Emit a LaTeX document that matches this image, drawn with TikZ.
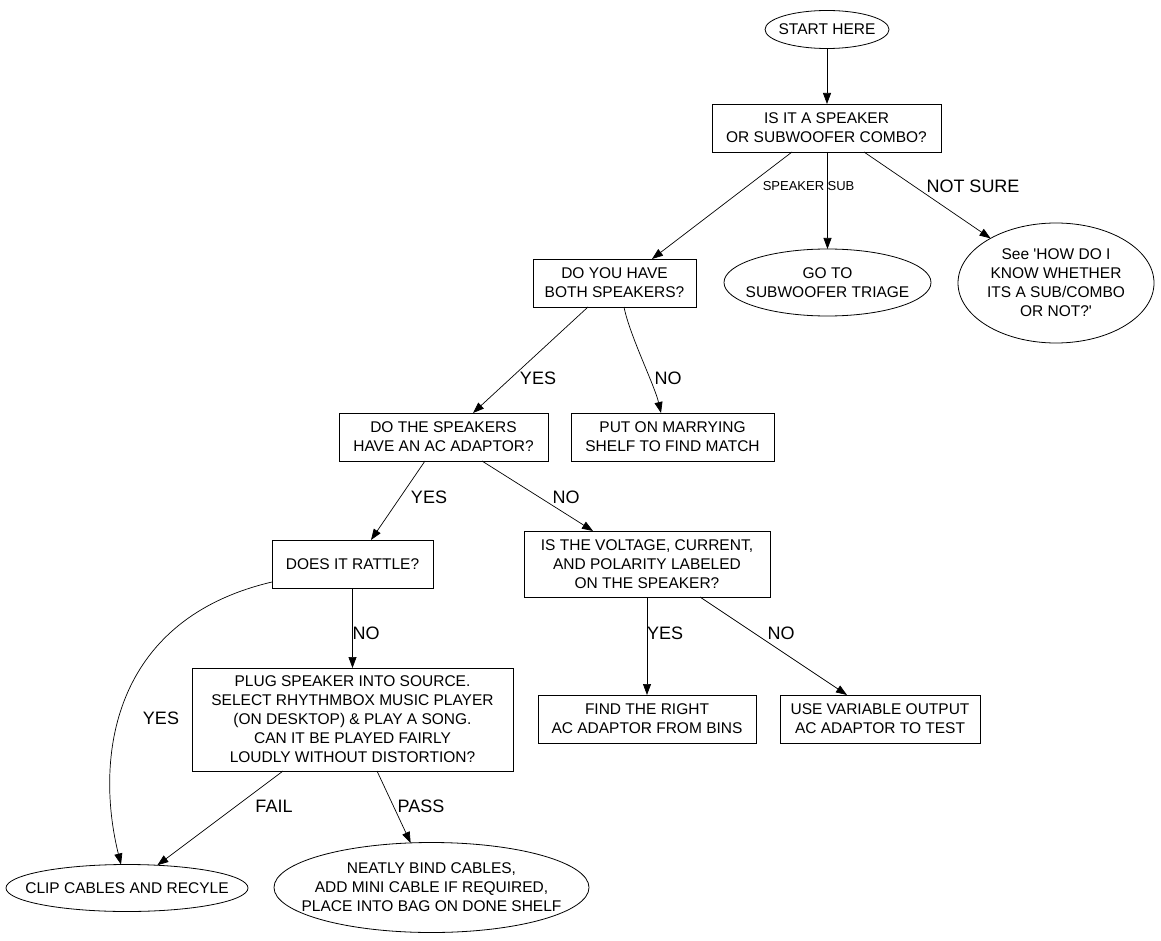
\documentclass[tikz,border=0pt]{standalone}
\usepackage{fontspec}
\setmainfont{Liberation Sans}
\usetikzlibrary{arrows.meta,shapes.geometric}
\begin{document}
\begin{tikzpicture}[x=1pt,y=-1pt,
  every node/.style={inner sep=0pt, outer sep=0pt, align=center, font=\fontsize{15.5}{19}\selectfont},
  box/.style={draw, rectangle, line width=0.8pt},
  oval/.style={draw, ellipse, line width=0.8pt},
  lbl/.style={font=\fontsize{18}{20}\selectfont},
  slbl/.style={font=\fontsize{13}{15}\selectfont},
  link/.style={draw, line width=0.7pt, -{Triangle[length=11pt,width=8pt]}}
]
\fill[white] (0,0) rectangle (1161,941);
\useasboundingbox (0,0) rectangle (1161,941);

% nodes
\node[oval, minimum width=124pt, minimum height=38pt] (start) at (827,29.5) {};
\node (startT) at (start) {START HERE};
\node[box, minimum width=229pt, minimum height=48pt] (isit) at (826.5,128) {IS IT A SPEAKER\\OR SUBWOOFER COMBO?};
\node[box, minimum width=163pt, minimum height=48pt] (doyou) at (614.5,283) {DO YOU HAVE\\BOTH SPEAKERS?};
\node[oval, minimum width=207pt, minimum height=67pt] (goto) at (827.5,282.5) {};
\node (gotoT) at (goto) {GO TO\\SUBWOOFER TRIAGE};
\node[oval, minimum width=196pt, minimum height=120pt] (see) at (1056,283) {};
\node (seeT) at (see) {See \textquotesingle HOW DO I\\KNOW WHETHER\\ITS A SUB/COMBO\\OR NOT?\textquotesingle};
\node[box, minimum width=209pt, minimum height=48pt] (dothe) at (443.5,437) {DO THE SPEAKERS\\HAVE AN AC ADAPTOR?};
\node[box, minimum width=203pt, minimum height=48pt] (put) at (672.5,437) {PUT ON MARRYING\\SHELF TO FIND MATCH};
\node[box, minimum width=161pt, minimum height=48pt] (rattle) at (352.5,564) {DOES IT RATTLE?};
\node[box, minimum width=246pt, minimum height=66pt] (volt) at (647,564) {IS THE VOLTAGE, CURRENT,\\AND POLARITY LABELED\\ON THE SPEAKER?};
\node[box, minimum width=321pt, minimum height=103pt] (plug) at (352.5,719.5) {PLUG SPEAKER INTO SOURCE.\\SELECT RHYTHMBOX MUSIC PLAYER\\(ON DESKTOP) \& PLAY A SONG.\\CAN IT BE PLAYED FAIRLY\\LOUDLY WITHOUT DISTORTION?};
\node[box, minimum width=218pt, minimum height=48pt] (find) at (647,719) {FIND THE RIGHT\\AC ADAPTOR FROM BINS};
\node[box, minimum width=200pt, minimum height=48pt] (use) at (880,719) {USE VARIABLE OUTPUT\\AC ADAPTOR TO TEST};
\node[oval, minimum width=242pt, minimum height=47pt] (clip) at (127,888) {};
\node (clipT) at (clip) {CLIP CABLES AND RECYLE};
\node[oval, minimum width=315pt, minimum height=90pt] (neat) at (431.5,887.5) {};
\node (neatT) at (neat) {NEATLY BIND CABLES,\\ADD MINI CABLE IF REQUIRED,\\PLACE INTO BAG ON DONE SHELF};

% connectors
\path[link] (start.south) -- (start.south |- isit.north);
\path[link] ([xshift=-34.5pt]isit.south) -- ([xshift=37.5pt]doyou.north);
\path[link] ([xshift=1pt]isit.south) -- (goto.north);
\path[link] ([xshift=37.5pt]isit.south) -- (see);
\path[link] ([xshift=-26.5pt]doyou.south) -- ([xshift=29.5pt]dothe.north);
\path[link] ([xshift=9.5pt]doyou.south) .. controls ([xshift=15pt,yshift=-28pt]doyou.south) and ([xshift=-18pt,yshift=28pt]put.north) .. ([xshift=-11.5pt]put.north);
\path[link] ([xshift=-18.5pt]dothe.south) -- ([xshift=18.5pt]rattle.north);
\path[link] ([xshift=38.5pt]dothe.south) -- ([xshift=-54pt]volt.north);
\path[link] (rattle.south) -- (plug.north);
\path[link] ([yshift=-18pt]rattle.west) .. controls (110,620) and (95,760) .. ([xshift=-6pt]clip.north);
\path[link] ([xshift=-69.5pt]plug.south) -- (clip);
\path[link] ([xshift=24.5pt]plug.south) -- (neat);
\path[link] (volt.south) -- (find.north);
\path[link] ([xshift=53pt]volt.south) -- ([xshift=-33pt]use.north);

% labels
\node[slbl] (lspk) at (793.5,186) {SPEAKER};
\node[slbl] (lsub) at (841,186) {SUB};
\node[lbl] (lns) at (973,186) {NOT SURE};
\node[lbl] (ly1) at (538,378) {YES};
\node[lbl] (ln1) at (668,378) {NO};
\node[lbl] (ly2) at (429,497) {YES};
\node[lbl] (ln2) at (566,497) {NO};
\node[lbl] (ln3) at (366,633) {NO};
\node[lbl] (ly3) at (161,718) {YES};
\node[lbl] (ly4) at (665,633) {YES};
\node[lbl] (ln4) at (781,633) {NO};
\node[lbl] (lf) at (274,806) {FAIL};
\node[lbl] (lp) at (421,806) {PASS};
\end{tikzpicture}
\end{document}
